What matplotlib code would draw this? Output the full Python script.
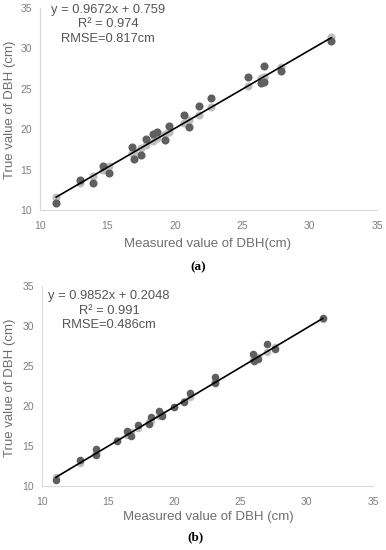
import matplotlib
matplotlib.use("Agg")
import matplotlib.pyplot as plt
import numpy as np

# ---- Panel (a) data ----
a_x = [11.2, 13.0, 13.9, 14.7, 15.1, 16.8, 17.0, 17.5, 17.9, 18.4, 18.7, 19.3,
       19.6, 20.7, 21.05, 21.8, 22.7, 25.4, 26.4, 26.6, 26.6, 27.9, 31.6]
a_true = [10.9, 13.7, 13.4, 15.5, 14.6, 17.8, 16.3, 16.8, 18.8, 19.4, 19.7, 18.7,
          20.4, 21.7, 20.3, 22.9, 23.8, 26.5, 25.7, 27.8, 25.8, 27.2, 30.9]
a_fit = [11.6, 13.3, 14.2, 15.0, 15.4, 17.0, 17.2, 17.7, 18.1, 18.6, 18.9, 19.4,
         19.7, 20.8, 21.1, 21.8, 22.7, 25.3, 26.3, 26.5, 26.5, 27.7, 31.4]
a_slope, a_icpt = 0.9672, 0.759
a_text = ["y = 0.9672x + 0.759", "R\u00b2 = 0.974", "RMSE=0.817cm"]

# ---- Panel (b) data ----
b_x = [11.05, 12.9, 14.1, 14.1, 15.7, 16.4, 16.7, 17.25, 18.2, 18.1, 18.8, 19.1,
       20.0, 20.7, 21.2, 23.1, 23.1, 25.9, 26.0, 26.3, 27.0, 27.6, 31.2]
b_true = [10.75, 13.3, 14.6, 13.9, 15.6, 16.9, 16.25, 17.6, 18.6, 17.75, 19.4, 18.75,
          19.9, 20.5, 21.6, 23.6, 22.9, 26.5, 25.6, 25.9, 27.75, 27.1, 31.0]
b_fit = [11.1, 12.9, 14.1, 14.1, 15.7, 16.4, 16.7, 17.2, 18.1, 18.0, 18.7, 19.0,
         19.9, 20.6, 21.1, 23.0, 23.0, 25.7, 25.8, 26.1, 26.8, 27.4, 30.9]
b_slope, b_icpt = 0.9852, 0.2048
b_text = ["y = 0.9852x + 0.2048", "R\u00b2 = 0.991", "RMSE=0.486cm"]

ticks = [10, 15, 20, 25, 30, 35]

plt.rcParams['font.family'] = ['Liberation Sans', 'DejaVu Sans']

W, H = 386, 550
fig = plt.figure(figsize=(W / 100, H / 100), dpi=100)

def px_axes(l, r, t, b):
    return fig.add_axes([l / W, 1 - b / H, (r - l) / W, (b - t) / H])

def fx(px):
    return px / W

def fy(py):
    return 1 - py / H

def panel(ax, x, yt, yf, slope, icpt, texts, xlabel, ms, tx, tys, xly, yly):
    ax.scatter(x, yf, s=ms, color='#bfbfbf', zorder=2, linewidths=0)
    ax.scatter(x, yt, s=ms, color='#5f5f5f', zorder=3, linewidths=0)
    xs = np.array([min(x), max(x)])
    ax.plot(xs, slope * xs + icpt, color='black', lw=1.2, zorder=4)
    ax.set_xlim(10, 35)
    ax.set_ylim(10, 35)
    ax.set_xticks(ticks)
    ax.set_yticks(ticks)
    for s in ['top', 'right']:
        ax.spines[s].set_visible(False)
    for s in ['left', 'bottom']:
        ax.spines[s].set_color('#d9d9d9')
        ax.spines[s].set_linewidth(0.8)
    ax.tick_params(length=0, labelsize=7.5, labelcolor='#7f7f7f')
    ax.tick_params(axis='x', pad=8)
    ax.tick_params(axis='y', pad=6)
    fig.text(fx(208), fy(xly), xlabel, ha='center', va='center',
             fontsize=9.5, color='#6f6f6f')
    fig.text(fx(10), fy(yly), 'True value of DBH (cm)', ha='center', va='center',
             rotation=90, fontsize=9.5, color='#6f6f6f')
    for t, ty in zip(texts, tys):
        fig.text(fx(tx), fy(ty), t, ha='center', va='center', fontsize=9.3,
                 color='#555555')

ax1 = px_axes(40, 377, 8, 210)
panel(ax1, a_x, a_true, a_fit, a_slope, a_icpt, a_text,
      'Measured value of DBH(cm)', 34, 108, [10, 24, 39], 244, 110)
ax2 = px_axes(42, 373, 286, 486)
panel(ax2, b_x, b_true, b_fit, b_slope, b_icpt, b_text,
      'Measured value of DBH (cm)', 30, 109, [296, 311, 325], 517, 388)

fig.text(fx(198), fy(267), '(a)', ha='center', va='center', fontsize=9.5,
         fontweight='bold', family=['Liberation Serif', 'DejaVu Serif'])
fig.text(fx(196), fy(537), '(b)', ha='center', va='center', fontsize=9.5,
         fontweight='bold', family=['Liberation Serif', 'DejaVu Serif'])

fig.savefig('out.png', dpi=100, facecolor='white')
